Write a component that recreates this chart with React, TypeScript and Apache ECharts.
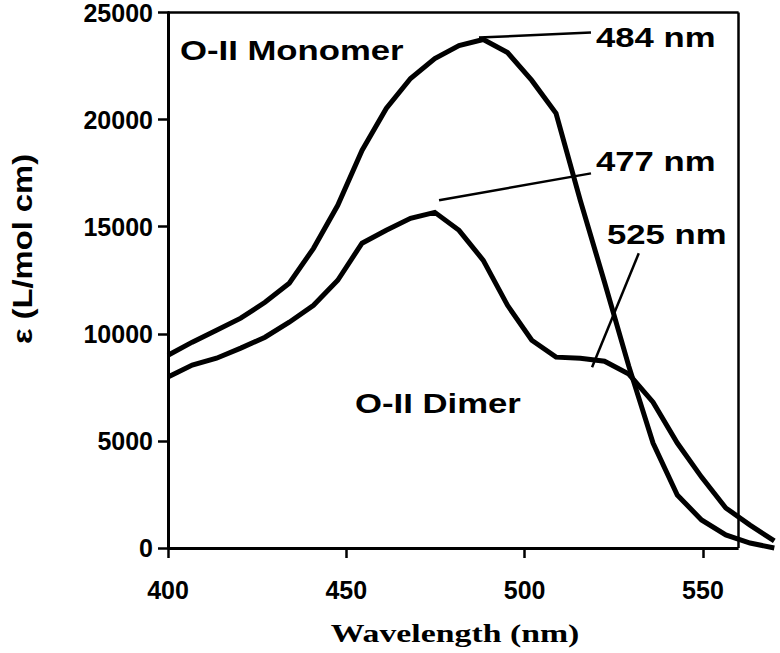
import React, { useEffect, useRef } from "react";
import * as echarts from "echarts";

// Wavelength sampling (nm)
const wavelengths = [400, 406.8, 413.6, 420.4, 427.2, 434, 440.8, 447.6, 454.4, 461.2, 468, 474.8, 481.6, 488.4, 495.2, 502, 508.8, 515.6, 522.4, 529.2, 536, 542.8, 549.6, 556.4, 563.2, 570];
// Molar absorptivity (L/mol cm)
const monomer = [9000, 9610, 10170, 10730, 11470, 12360, 13990, 16000, 18560, 20520, 21920, 22850, 23460, 23740, 23130, 21830, 20290, 16230, 12410, 8490, 4900, 2470, 1310, 610, 230, 0];
const dimer = [7980, 8540, 8860, 9330, 9840, 10540, 11330, 12500, 14230, 14830, 15390, 15670, 14830, 13430, 11330, 9700, 8910, 8860, 8720, 8120, 6810, 4900, 3310, 1870, 1070, 330];

const xTicks = [400, 450, 500, 550];
const yTicks = [0, 5000, 10000, 15000, 20000, 25000];
const xRange = [400, 560];
const yRange = [0, 25000];

// Annotation leader lines [x1, y1, x2, y2] in data units
const leader484 = [487.2, 23830, 518.6, 24070];
const leader477 = [476, 16230, 518.6, 17490];
const leader525 = [532, 13760, 518.9, 8440];

const seriesNames = ["O-II Monomer", "O-II Dimer"];
const peakLabels = ["484 nm", "477 nm", "525 nm"];

const FONT = '"Liberation Sans", Arial, Helvetica, sans-serif';
const SERIF = '"Liberation Serif", "Times New Roman", serif';

export default function App() {
  const ref = useRef<HTMLDivElement>(null);
  useEffect(() => {
    if (!ref.current) return;
    const chart = echarts.init(ref.current, null, { renderer: "svg" });
    const lineStyle = { color: "#000", width: 5, join: "miter" as const };
    const seg = (l: number[], width: number) => [
      { coord: [l[0], l[1]], lineStyle: { color: "#000", width, type: "solid" } },
      { coord: [l[2], l[3]] },
    ];
    const label = (t: string, x: number, y: number, size = 28) => ({
      type: "text",
      x,
      y,
      scaleX: 1.24,
      style: {
        text: t,
        fill: "#000",
        font: `bold ${size}px ${FONT}`,
        textAlign: "left",
        textVerticalAlign: "middle",
      },
    });
    chart.setOption({
      animation: false,
      backgroundColor: "#fff",
      grid: {
        left: 168,
        right: 0,
        top: 12,
        bottom: 105,
        show: false,
      },
      xAxis: {
        type: "value",
        min: 400,
        max: 571.6,
        interval: 50,
        axisLine: { show: false },
        axisTick: { show: true, length: 10, lineStyle: { color: "#000", width: 2.5 }, customValues: xTicks },
        axisLabel: {
          customValues: xTicks,
          color: "#000",
          fontSize: 25,
          fontWeight: "bold",
          fontFamily: FONT,
          margin: 29,
        },
        splitLine: { show: false },
      },
      yAxis: {
        type: "value",
        min: 0,
        max: 25000,
        interval: 5000,
        axisLine: { show: true, lineStyle: { color: "#000", width: 3 } },
        axisTick: { show: true, length: 10, lineStyle: { color: "#000", width: 2.5 }, customValues: yTicks },
        axisLabel: {
          customValues: yTicks,
          formatter: (v: number) => String(v),
          color: "#000",
          fontSize: 25,
          fontWeight: "bold",
          fontFamily: FONT,
          margin: 15,
        },
        splitLine: { show: false },
      },
      series: [
        {
          name: seriesNames[0],
          type: "line",
          data: wavelengths.map((w, i) => [w, monomer[i]]),
          symbol: "none",
          clip: false,
          lineStyle,
          z: 3,
          markLine: {
            silent: true,
            symbol: ["none", "none"],
            label: { show: false },
            lineStyle: { color: "#000", width: 2.5, type: "solid" },
            data: [
              seg(leader484, 2.5),
              seg(leader477, 2.5),
              seg(leader525, 2.5),
              // frame: bottom axis, top border, right border
              seg([xRange[0], yRange[0], xRange[1], yRange[0]], 3),
              seg([xRange[0], yRange[1], xRange[1], yRange[1]], 2.5),
              seg([xRange[1], yRange[0], xRange[1], yRange[1]], 2.5),
            ],
          },
        },
        {
          name: seriesNames[1],
          type: "line",
          data: wavelengths.map((w, i) => [w, dimer[i]]),
          symbol: "none",
          clip: false,
          lineStyle,
          z: 3,
        },
      ],
      graphic: [
        label(seriesNames[0], 180, 50),
        label(seriesNames[1], 355, 403),
        label(peakLabels[0], 596, 37),
        label(peakLabels[1], 596, 161),
        label(peakLabels[2], 607, 234),
        {
          type: "text",
          x: 22,
          y: 249,
          rotation: Math.PI / 2,
          scaleX: 1.17,
          style: {
            text: "ε (L/mol cm)",
            fill: "#000",
            font: `bold 28px ${FONT}`,
            textAlign: "center",
            textVerticalAlign: "middle",
          },
        },
        {
          type: "text",
          x: 455,
          y: 633,
          scaleX: 1.3,
          style: {
            text: "Wavelength (nm)",
            fill: "#000",
            font: `bold 26px ${SERIF}`,
            textAlign: "center",
            textVerticalAlign: "middle",
          },
        },
      ],
    });
    return () => chart.dispose();
  }, []);
  return (
    <div
      ref={ref}
      style={{ position: "absolute", left: 0, top: 0, width: 780, height: 653 }}
    />
  );
}
